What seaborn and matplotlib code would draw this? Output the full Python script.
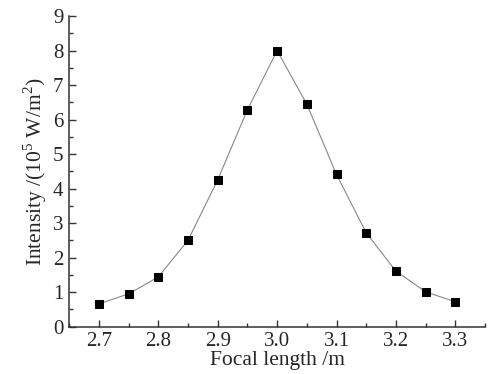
import pandas as pd
import matplotlib.pyplot as plt
import seaborn as sns
from matplotlib.ticker import MultipleLocator

focal = [2.70, 2.75, 2.80, 2.85, 2.90, 2.95, 3.00, 3.05, 3.10, 3.15, 3.20, 3.25, 3.30]
intensity = [0.66, 0.95, 1.44, 2.50, 4.25, 6.28, 8.00, 6.45, 4.41, 2.72, 1.61, 1.01, 0.72]

df = pd.DataFrame({'focal': focal, 'intensity': intensity})

sns.set_style("ticks")
plt.rcParams['font.family'] = ['Liberation Serif', 'DejaVu Serif']
plt.rcParams['mathtext.fontset'] = 'custom'
plt.rcParams['mathtext.rm'] = 'Liberation Serif'

fig = plt.figure(figsize=(4.97, 3.74), dpi=100)
ax = fig.add_axes([0.139, 0.1265, 0.837, 0.8305])
sns.lineplot(data=df, x='focal', y='intensity', ax=ax, color='#888888', linewidth=0.8,
             marker='s', markersize=5.8, markerfacecolor='black', markeredgecolor='black')

ax.set_xlim(2.65, 3.35)
ax.set_ylim(0, 9)
ax.xaxis.set_major_locator(MultipleLocator(0.1))
ax.xaxis.set_minor_locator(MultipleLocator(0.05))
ax.yaxis.set_major_locator(MultipleLocator(1))
ax.yaxis.set_minor_locator(MultipleLocator(0.5))
ax.xaxis.set_major_formatter(plt.FormatStrFormatter('%.1f'))
ax.tick_params(which='both', direction='in', color='#333333', width=1)
ax.tick_params(which='major', length=5, labelsize=15, pad=4)
ax.tick_params(which='minor', length=3)
sns.despine(ax=ax)
for s in ['left', 'bottom']:
    ax.spines[s].set_color('#333333')
    ax.spines[s].set_linewidth(1.1)

ax.set_xlabel('Focal length /m', fontsize=15.5, labelpad=0)
ax.set_ylabel(r'Intensity /(10$^5$ W/m$^2$)', fontsize=15.5, labelpad=3)

plt.savefig("out.png", dpi=100)
plt.close()
